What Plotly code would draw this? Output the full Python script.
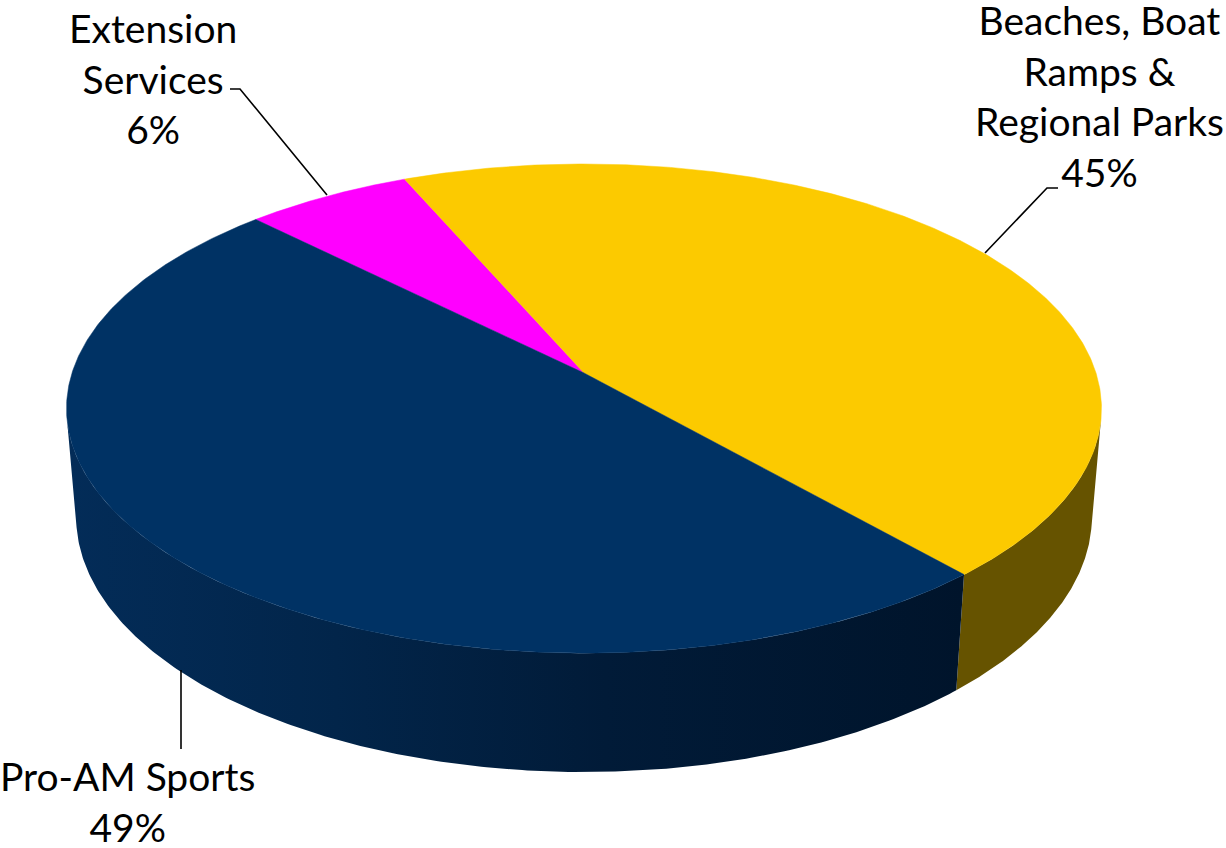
import numpy as np
import plotly.graph_objects as go

# ---- data ----
categories = ["Extension Services", "Beaches, Boat Ramps & Regional Parks", "Pro-AM Sports"]
label_text = ["Extension<br>Services<br>6%", "Beaches, Boat<br>Ramps &<br>Regional Parks<br>45%", "Pro-AM Sports<br>49%"]
shares = [6, 45, 49]

# ---- styling ----
top_colors = ["#FF00FF", "#FCCA00", "#003264"]
side_colors = ["#990099", "#665300", "#001B38"]
side_gradients = [None, None,
                  [[0.0, "#032C58"], [0.3, "#02254A"], [0.6, "#011B38"], [1.0, "#00142B"]]]
FIRST_SLICE_ANGLE = 315  # degrees clockwise from 12 o'clock

W, H = 1226, 848

# ---- simple perspective camera looking down on a cylinder ----
CX, CY = 584.0, 373.0
FOCAL = 3113.0
DIST = 6.08
ELEV = np.arcsin(0.4676)
SE, CE = np.sin(ELEV), np.cos(ELEV)
THICK = 0.2408


def project(t_deg, z):
    t = np.radians(t_deg)
    X, Y = np.cos(t), np.sin(t)
    depth = DIST + Y * CE - z * SE
    up = Y * SE + z * CE
    return CX + FOCAL * X / depth, CY - FOCAL * up / depth


# slice angle spans (math angles, running clockwise = decreasing)
total = float(sum(shares))
t0 = 90.0 - FIRST_SLICE_ANGLE
spans = []
for v in shares:
    t1 = t0 - 360.0 * v / total
    spans.append((t0, t1))
    t0 = t1

# visible part of the side wall, bounded by the silhouette generators
py = -1.0 / (DIST * CE)
vis_hi = np.degrees(np.arcsin(py))
vis_lo = -180.0 - vis_hi

fig = go.Figure()

# side walls first
for i, (ta, tb) in enumerate(spans):
    for k in (-360.0, 0.0, 360.0):
        hi = min(ta, vis_hi + k)
        lo = max(tb, vis_lo + k)
        if hi <= lo:
            continue
        ts = np.linspace(hi, lo, 240)
        xt, yt = project(ts, 0.0)
        xb, yb = project(ts[::-1], -THICK)
        xs = np.concatenate([xt, xb, xt[:1]])
        ys = np.concatenate([yt, yb, yt[:1]])
        kw = dict(fill="toself", fillcolor=side_colors[i])
        if side_gradients[i] is not None:
            kw["fillgradient"] = dict(type="horizontal", colorscale=side_gradients[i])
        fig.add_trace(go.Scatter(x=xs, y=ys, mode="lines", line=dict(width=0),
                                 hoverinfo="skip", showlegend=False, **kw))

# top faces
for i, (ta, tb) in enumerate(spans):
    ts = np.linspace(ta, tb, 400)
    xa, ya = project(ts, 0.0)
    xs = np.concatenate([[CX], xa, [CX]])
    ys = np.concatenate([[CY], ya, [CY]])
    fig.add_trace(go.Scatter(x=xs, y=ys, mode="lines", fill="toself",
                             fillcolor=top_colors[i], line=dict(width=0.5, color=top_colors[i]),
                             name=categories[i], text=f"{categories[i]}: {shares[i]}%",
                             hoverinfo="text", showlegend=False))

# leader lines
leaders = [
    ([230, 240, 327], [89, 89, 195]),
    ([1058, 1047, 985], [188, 188, 253]),
    ([181, 181], [670, 749]),
]
for lx, ly in leaders:
    fig.add_trace(go.Scatter(x=lx, y=ly, mode="lines", line=dict(color="black", width=1.6),
                             hoverinfo="skip", showlegend=False))

# data labels
label_pos = [(153, 78), (1099, 96), (127, 801)]
for txt, (lx, ly) in zip(label_text, label_pos):
    fig.add_annotation(x=lx, y=ly, xref="x", yref="y", text=txt, showarrow=False,
                       xanchor="center", yanchor="middle", align="center",
                       font=dict(family="Lato", size=39, color="black"))

fig.update_layout(
    width=W, height=H,
    margin=dict(l=0, r=0, t=0, b=0),
    paper_bgcolor="white", plot_bgcolor="white",
    xaxis=dict(range=[0, W], visible=False, fixedrange=True),
    yaxis=dict(range=[H, 0], visible=False, fixedrange=True),
)

fig.write_html("out.html")
